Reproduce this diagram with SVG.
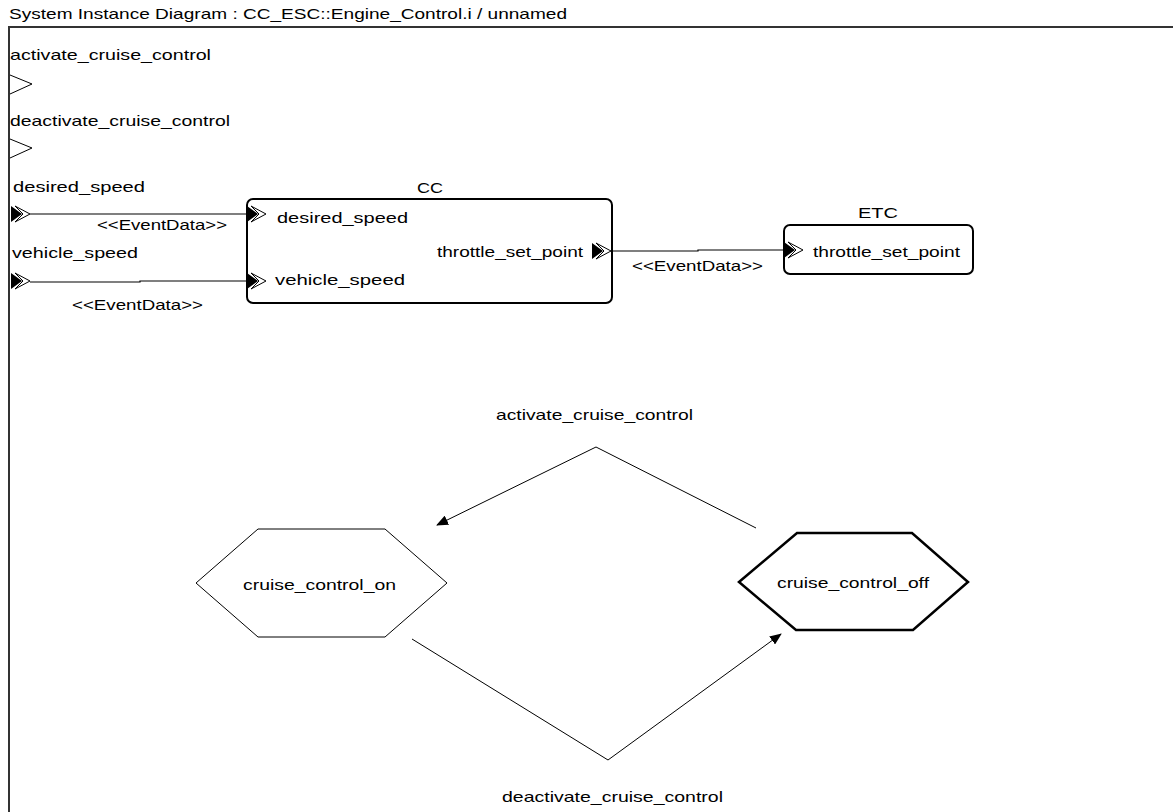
<svg xmlns="http://www.w3.org/2000/svg" width="1173" height="812" viewBox="0 0 1173 812">
<style>
text{font-family:"Liberation Sans",Arial,sans-serif;font-size:15px;fill:#000}
.box{fill:#fff;stroke:#000;stroke-width:2}
.st{fill:#fff;stroke:#000;stroke-width:1}
.st2{fill:#fff;stroke:#000;stroke-width:2.5}
.wire{fill:none;stroke:#000;stroke-width:1.2}
.tr{fill:none;stroke:#000;stroke-width:1}
.frame{fill:none;stroke:#333;stroke-width:2}
</style>
<defs>
<g id="port">
<polygon points="4,-8 19,0 4,8 12,0" fill="#fff" stroke="#000" stroke-width="1"/>
<polygon points="0,-8 11,0 0,8" fill="#000"/>
</g>
<marker id="ah" markerUnits="userSpaceOnUse" markerWidth="12" markerHeight="10" viewBox="0 0 12 10" refX="11" refY="5" orient="auto">
<path d="M0,0 L12,5 L0,10 z" fill="#000"/>
</marker>
</defs>
<rect width="1173" height="812" fill="#fff"/>
<text x="9" y="19" textLength="558" lengthAdjust="spacingAndGlyphs">System Instance Diagram : CC_ESC::Engine_Control.i / unnamed</text>
<path class="frame" d="M9,812 L9,27 L1173,27"/>

<g id="ext-activate_cruise_control">
<text x="10" y="60" textLength="201" lengthAdjust="spacingAndGlyphs">activate_cruise_control</text>
<polyline points="10,75 32,84 10,94" fill="none" stroke="#000" stroke-width="1"/>
</g>
<g id="ext-deactivate_cruise_control">
<text x="10" y="126" textLength="220" lengthAdjust="spacingAndGlyphs">deactivate_cruise_control</text>
<polyline points="10,139 32,148 10,158" fill="none" stroke="#000" stroke-width="1"/>
</g>
<g id="ext-desired_speed">
<text x="13" y="192" textLength="132" lengthAdjust="spacingAndGlyphs">desired_speed</text>
<use href="#port" x="11" y="214"/>
</g>
<g id="ext-vehicle_speed">
<text x="12" y="258" textLength="126" lengthAdjust="spacingAndGlyphs">vehicle_speed</text>
<use href="#port" x="11" y="281"/>
</g>

<g id="connectors">
<polyline class="wire" points="30,214 247,214"/>
<polyline class="wire" points="30,282 140,282 140,281 247,281"/>
<polyline class="wire" points="612,251 698,251 698,250 784,250"/>
<text x="97" y="230" textLength="130" lengthAdjust="spacingAndGlyphs">&lt;&lt;EventData&gt;&gt;</text>
<text x="72" y="310" textLength="131" lengthAdjust="spacingAndGlyphs">&lt;&lt;EventData&gt;&gt;</text>
<text x="632" y="271" textLength="131" lengthAdjust="spacingAndGlyphs">&lt;&lt;EventData&gt;&gt;</text>
<polyline class="tr" points="756,528 596,447 437,525" marker-end="url(#ah)"/>
<polyline class="tr" points="412,639 608,760 781,634" marker-end="url(#ah)"/>
<text x="496" y="420" textLength="197" lengthAdjust="spacingAndGlyphs">activate_cruise_control</text>
<text x="502" y="802" textLength="221" lengthAdjust="spacingAndGlyphs">deactivate_cruise_control</text>
</g>

<g id="CC">
<text x="417" y="193" textLength="26" lengthAdjust="spacingAndGlyphs">CC</text>
<rect class="box" x="247" y="199" width="365" height="104" rx="6"/>
<use href="#port" x="247" y="214"/>
<use href="#port" x="247" y="281"/>
<use href="#port" x="592" y="251"/>
<text x="277" y="223" textLength="131" lengthAdjust="spacingAndGlyphs">desired_speed</text>
<text x="275" y="285" textLength="130" lengthAdjust="spacingAndGlyphs">vehicle_speed</text>
<text x="437" y="257" textLength="146" lengthAdjust="spacingAndGlyphs">throttle_set_point</text>
</g>

<g id="ETC">
<text x="858" y="218" textLength="40" lengthAdjust="spacingAndGlyphs">ETC</text>
<rect class="box" x="784" y="225" width="189" height="49" rx="6"/>
<use href="#port" x="784" y="250"/>
<text x="813" y="257" textLength="147" lengthAdjust="spacingAndGlyphs">throttle_set_point</text>
</g>

<g id="cruise_control_on">
<polygon class="st" points="196,583 258,529 385,529 447,583 385,637 258,637"/>
<text x="243" y="590" textLength="153" lengthAdjust="spacingAndGlyphs">cruise_control_on</text>
</g>

<g id="cruise_control_off">
<polygon class="st2" points="739,582 797,533 912,533 968,582 913,630 796,630"/>
<text x="777" y="588" textLength="152" lengthAdjust="spacingAndGlyphs">cruise_control_off</text>
</g>
</svg>
